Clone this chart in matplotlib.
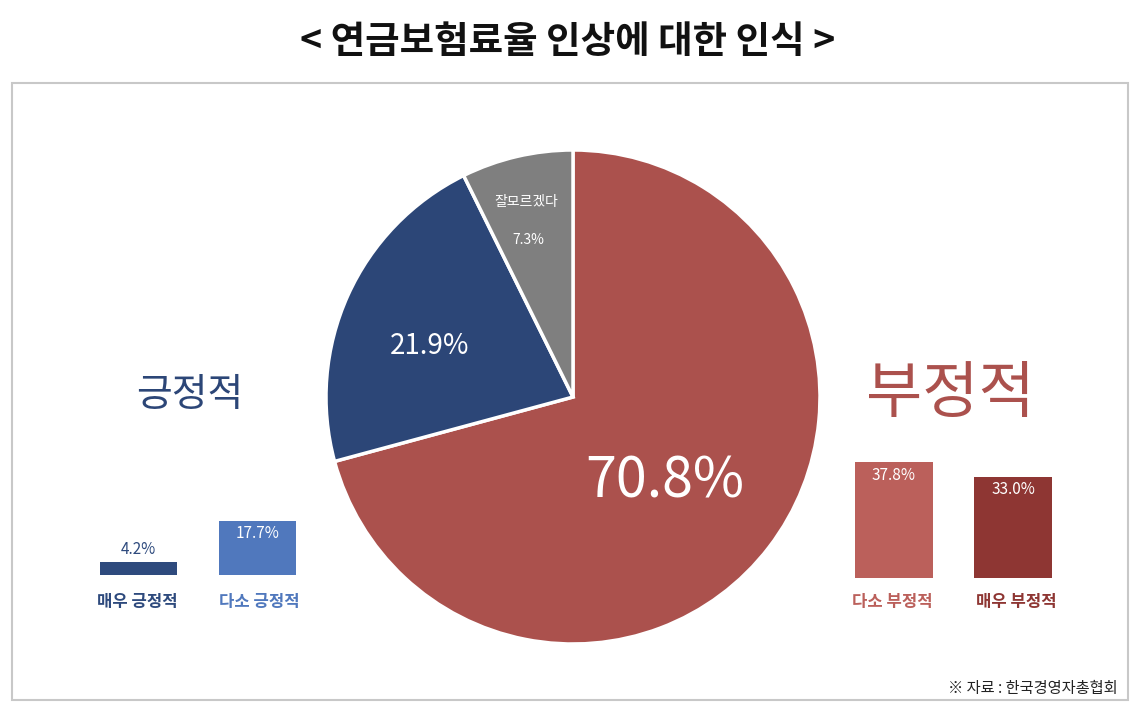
import matplotlib
matplotlib.use("Agg")
import matplotlib.pyplot as plt
from matplotlib.patches import Rectangle

plt.rcParams["font.family"] = ["Noto Sans CJK KR", "DejaVu Sans"]

title = "< 연금보험료율 인상에 대한 인식 >"
pie_labels = ["부정적", "긍정적", "잘모르겠다"]
pie_values = [70.8, 21.9, 7.3]
pie_colors = ["#ab514d", "#2c4677", "#7f7f7f"]

pos_labels = ["매우 긍정적", "다소 긍정적"]
pos_values = [4.2, 17.7]
pos_colors = ["#2e4a7d", "#5078bd"]

neg_labels = ["다소 부정적", "매우 부정적"]
neg_values = [37.8, 33.0]
neg_colors = ["#bb605b", "#8e3633"]

W, H = 1136, 710
fig = plt.figure(figsize=(W / 100, H / 100), dpi=100)
ax = fig.add_axes([0, 0, 1, 1])

# y axis is flipped (pixel coords), so angles run mirrored:
# startangle=-90 is the top, counterclock=True draws clockwise on screen
wedges, _ = ax.pie(pie_values, colors=pie_colors, startangle=-90, counterclock=True,
                   center=(573, 397), radius=247, frame=True,
                   wedgeprops=dict(edgecolor="white", linewidth=2.5))
ax.set_xlim(0, W)
ax.set_ylim(H, 0)
ax.set_aspect("equal")
ax.axis("off")

ax.add_patch(Rectangle((12, 83), 1116, 617, fill=False, edgecolor="#c8c8c8", lw=1.5))
ax.text(W / 2, 42, title, ha="center", va="center", fontsize=27, fontweight="bold", color="#111111")

ax.text(665, 482, f"{pie_values[0]}%", ha="center", va="center", fontsize=40, color="white")
ax.text(430, 346, f"{pie_values[1]}%", ha="center", va="center", fontsize=20, color="white")
ax.text(526, 202, pie_labels[2], ha="center", va="center", fontsize=10, color="white")
ax.text(528, 240, f"{pie_values[2]}%", ha="center", va="center", fontsize=10, color="white")

ax.text(190, 395, pie_labels[1], ha="center", va="center", fontsize=28, color="#2c4677")
ax.text(950, 395, pie_labels[0], ha="center", va="center", fontsize=44, color="#ab514d")

PX_PER_PCT = 3.07


def bar_axes(x0, x1, base):
    top = base - 40 * PX_PER_PCT
    a = fig.add_axes([x0 / W, 1 - base / H, (x1 - x0) / W, (base - top) / H])
    a.set_ylim(0, 40)
    a.set_xlim(-0.5, 1.5)
    a.axis("off")
    return a


axl = bar_axes(79, 317, 575)
axl.bar([0, 1], pos_values, width=0.65, color=pos_colors)
axl.text(0, pos_values[0] + 1.5, f"{pos_values[0]}%", ha="center", va="bottom", fontsize=11, color="#2e4a7d")
axl.text(1, pos_values[1] - 1.5, f"{pos_values[1]}%", ha="center", va="top", fontsize=11, color="white")
ax.text(137, 602, pos_labels[0], ha="center", va="center", fontsize=12, fontweight="bold", color="#2e4a7d")
ax.text(259, 602, pos_labels[1], ha="center", va="center", fontsize=12, fontweight="bold", color="#5078bd")

axr = bar_axes(834, 1073, 578)
axr.bar([0, 1], neg_values, width=0.65, color=neg_colors)
for i, v in enumerate(neg_values):
    axr.text(i, v - 1.5, f"{v}%", ha="center", va="top", fontsize=11, color="white")
ax.text(892, 602, neg_labels[0], ha="center", va="center", fontsize=12, fontweight="bold", color="#bb605b")
ax.text(1016, 602, neg_labels[1], ha="center", va="center", fontsize=12, fontweight="bold", color="#8e3633")

ax.text(1118, 688, "※ 자료 : 한국경영자총협회", ha="right", va="center", fontsize=11, color="#222222")

fig.savefig("out.png", dpi=100)
